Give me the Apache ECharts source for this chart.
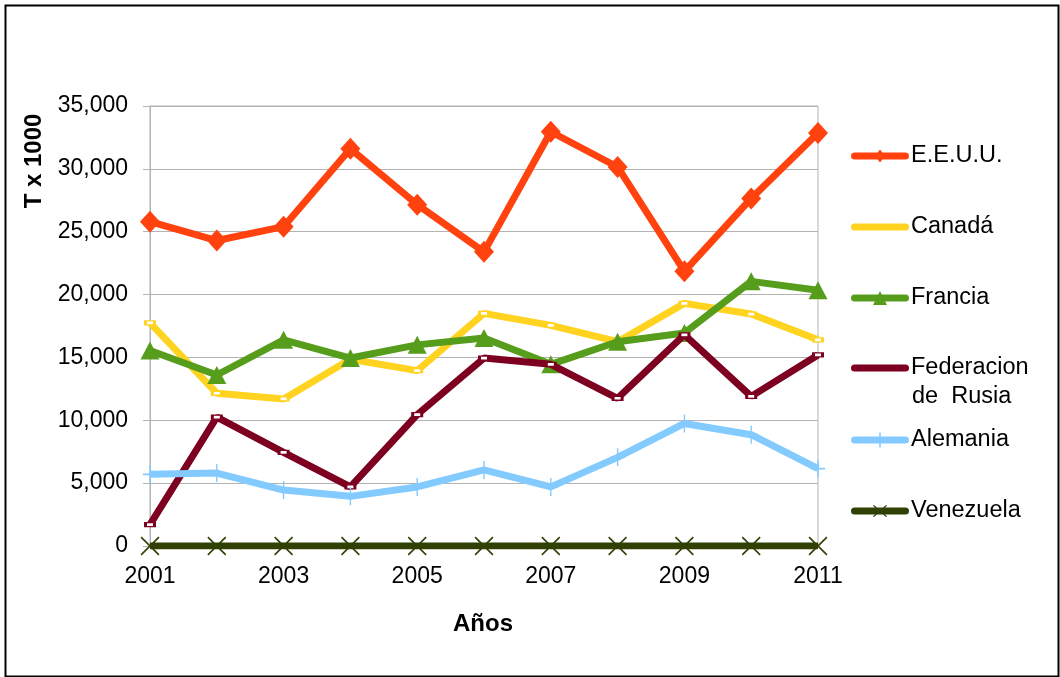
<!DOCTYPE html>
<html>
<head>
<meta charset="utf-8">
<script src="https://cdn.jsdelivr.net/npm/echarts@6/dist/echarts.min.js"></script>
<style>
html,body{margin:0;padding:0;background:#fff;}
#chart{width:1060px;height:677px;}
</style>
</head>
<body>
<div id="chart"></div>
<script>
var years = ['2001','2002','2003','2004','2005','2006','2007','2008','2009','2010','2011'];
var yTicks = [0, 5000, 10000, 15000, 20000, 25000, 30000, 35000];
var eeuu      = [25800, 24300, 25400, 31600, 27150, 23400, 32950, 30150, 21850, 27650, 32850];
var canada    = [17750, 12150, 11700, 14850, 13950, 18500, 17550, 16250, 19300, 18450, 16400];
var francia   = [15550, 13600, 16400, 14950, 16000, 16550, 14450, 16250, 16950, 21050, 20350];
var rusia     = [1700, 10250, 7450, 4700, 10450, 14950, 14450, 11750, 16800, 11900, 15200];
var alemania  = [5700, 5800, 4450, 3950, 4700, 6050, 4700, 7050, 9750, 8850, 6150];
var venezuela = [0, 0, 0, 0, 0, 0, 0, 0, 0, 0, 0];

var names = ['E.E.U.U.', 'Canadá', 'Francia', 'Federacion de  Rusia', 'Alemania', 'Venezuela'];
var colors = ['#ff420e', '#ffd320', '#579d1c', '#7e0021', '#83caff', '#314004'];
var dataSets = [eeuu, canada, francia, rusia, alemania, venezuela];

var plusPath = 'path://M9,0L11,0L11,20L9,20Z M0,9L20,9L20,11L0,11Z';
var xPath = 'path://M0,1.2L1.2,0L20,18.8L18.8,20Z M18.8,0L20,1.2L1.2,20L0,18.8Z';
var symbols = [
  {symbol: 'diamond', size: [20, 22]},
  {symbol: 'rect', size: [9, 4], hollow: true},
  {symbol: 'triangle', size: [19, 18]},
  {symbol: 'rect', size: [9, 4], hollow: true},
  {symbol: plusPath, size: [14, 18]},
  {symbol: xPath, size: [19, 19]}
];

// legend icons: rounded bar (58 wide, 7 thick) plus a small marker; h = icon box height
function bar(cy) {
  var t = cy - 3.5, b = cy + 3.5;
  return 'M3.5,' + t + 'L54.5,' + t + 'A3.5,3.5 0 0 1 54.5,' + b + 'L3.5,' + b + 'A3.5,3.5 0 0 1 3.5,' + t + 'Z';
}
var legendIcons = [
  {path: 'path://' + bar(6.5) + 'M29,0L34,6.5L29,13L24,6.5Z', h: 13},
  {path: 'path://' + bar(3.5), h: 7},
  {path: 'path://' + bar(7) + 'M29,0L36,14L22,14Z', h: 14},
  {path: 'path://' + bar(3.5), h: 7},
  {path: 'path://' + bar(7.5) + 'M28.2,0L29.8,0L29.8,15L28.2,15Z', h: 15},
  {path: 'path://' + bar(6) + 'M22,0.8L23,0L36,11.2L35,12Z M35,0L36,0.8L23,12L22,11.2Z', h: 12}
];

var series = dataSets.map(function (d, i) {
  var s = symbols[i];
  return {
    name: names[i],
    type: 'line',
    data: d,
    symbol: s.symbol,
    symbolSize: s.size,
    showAllSymbol: true,
    lineStyle: {color: colors[i], width: 7},
    itemStyle: s.hollow ? {color: '#ffffff', borderColor: colors[i], borderWidth: 2} : {color: colors[i]},
    emphasis: {disabled: true},
    z: 2 + i
  };
});

var legendCenters = [156, 227, 298, 368, 440, 511];
var legends = names.map(function (n, i) {
  return {
    data: [{name: n, icon: legendIcons[i].path, itemStyle: {color: colors[i], borderWidth: 0}}],
    orient: 'vertical',
    left: 851,
    top: legendCenters[i] - 14,
    padding: 0,
    itemWidth: 58,
    itemHeight: legendIcons[i].h,
    itemGap: 0,
    selectedMode: false,
    formatter: function (name) { return name === 'Federacion de  Rusia' ? 'Federacion' : name; },
    textStyle: {fontFamily: 'Liberation Sans, Arial, sans-serif', fontSize: 23.5, color: '#000', lineHeight: 28, padding: [0, 0, 0, -3]}
  };
});

var chart = echarts.init(document.getElementById('chart'), null, {renderer: 'canvas'});
chart.setOption({
  animation: false,
  backgroundColor: '#ffffff',
  color: colors,
  grid: {left: 150, right: 242, top: 106, bottom: 131, show: true, borderColor: '#b3b3b3', borderWidth: 1},
  legend: legends,
  xAxis: {
    type: 'category',
    data: years,
    boundaryGap: false,
    axisLine: {lineStyle: {color: '#b3b3b3', width: 1}},
    axisTick: {show: false},
    axisLabel: {interval: 1, color: '#000', fontFamily: 'Liberation Sans, Arial, sans-serif', fontSize: 23, margin: 19},
    splitLine: {show: false}
  },
  yAxis: {
    type: 'value',
    min: yTicks[0],
    max: yTicks[yTicks.length - 1],
    interval: yTicks[1] - yTicks[0],
    axisLine: {show: true, lineStyle: {color: '#b3b3b3', width: 1}},
    axisTick: {show: true, length: 7, lineStyle: {color: '#b3b3b3'}},
    axisLabel: {
      color: '#000', fontFamily: 'Liberation Sans, Arial, sans-serif', fontSize: 23, margin: 22,
      formatter: function (v) { return v.toLocaleString('en-US'); }
    },
    splitLine: {lineStyle: {color: '#b3b3b3', width: 1}}
  },
  graphic: [
    {type: 'rect', left: 3, top: 3, shape: {width: 1053, height: 671}, style: {fill: 'none', stroke: '#000', lineWidth: 2}, z: -1, silent: true},
    {type: 'text', x: 34, y: 161, rotation: Math.PI / 2, style: {text: 'T x 1000', font: 'bold 24px "Liberation Sans", Arial, sans-serif', fill: '#000', align: 'center', verticalAlign: 'middle'}},
    {type: 'text', x: 483, y: 624, style: {text: 'Años', font: 'bold 24px "Liberation Sans", Arial, sans-serif', fill: '#000', align: 'center', verticalAlign: 'middle'}},
    {type: 'text', x: 912, y: 397, style: {text: 'de  Rusia', font: '23.5px "Liberation Sans", Arial, sans-serif', fill: '#000', align: 'left', verticalAlign: 'middle'}}
  ],
  series: series
});
</script>
</body>
</html>
